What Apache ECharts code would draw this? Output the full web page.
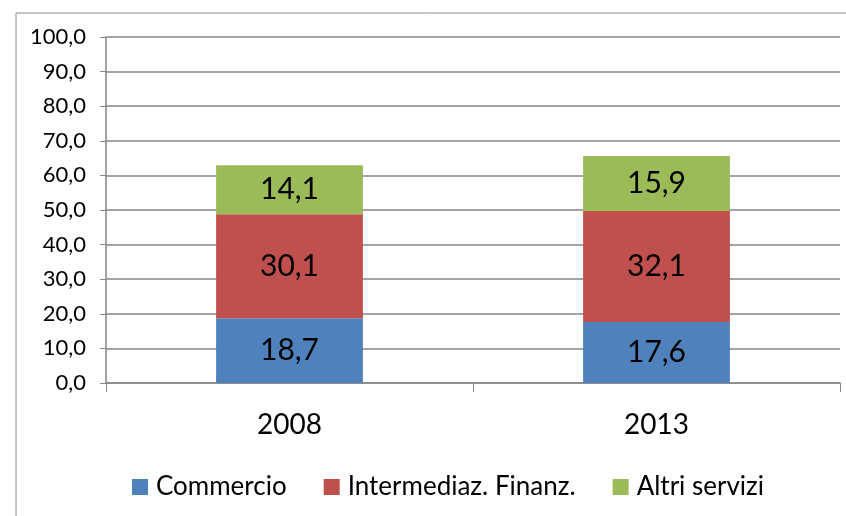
<!DOCTYPE html>
<html>
<head>
<meta charset="utf-8">
<script src="https://cdn.jsdelivr.net/npm/echarts@6/dist/echarts.min.js"></script>
<style>
  html, body { margin: 0; padding: 0; background: #fff; }
  #main { width: 846px; height: 516px; }
</style>
</head>
<body>
<div id="main"></div>
<script>
// dati
var anni = ['2008', '2013'];
var commercio = [18.7, 17.6];
var intermediaz = [30.1, 32.1];
var altriServizi = [14.1, 15.9];
var nomiSerie = ['Commercio', 'Intermediaz. Finanz.', 'Altri servizi'];

var font = 'Lato';
function virgola(v) { return v.toFixed(1).replace('.', ','); }

var myChart = echarts.init(document.getElementById('main'));

var etichetta = {
    show: true,
    position: 'inside',
    color: '#000',
    fontFamily: font,
    fontSize: 30,
    formatter: function (p) { return virgola(p.value); }
};

var option = {
    animation: false,
    color: ['#4F81BD', '#C0504D', '#9BBB59'],
    graphic: [{
        type: 'rect',
        shape: { x: 16, y: 13, width: 840, height: 520 },
        style: { fill: 'none', stroke: '#8c8c8c', lineWidth: 1 },
        silent: true
    }],
    grid: { left: 106, right: 6, top: 37, bottom: 133 },
    legend: {
        top: 469,
        left: 127,
        itemWidth: 16,
        itemHeight: 16,
        itemGap: 37,
        icon: 'rect',
        textStyle: { fontFamily: font, fontSize: 26, color: '#000', padding: [0, 0, 0, 3] },
        data: nomiSerie
    },
    xAxis: {
        type: 'category',
        data: anni,
        axisLine: { lineStyle: { color: '#868686', width: 1.5 } },
        axisTick: { show: true, alignWithLabel: false, length: 9, lineStyle: { color: '#868686' } },
        axisLabel: { fontFamily: font, fontSize: 28, color: '#000', margin: 28 }
    },
    yAxis: {
        type: 'value',
        min: 0,
        max: 100,
        interval: 10,
        axisLine: { show: true, lineStyle: { color: '#868686', width: 1.5 } },
        axisTick: { show: true, length: 6, lineStyle: { color: '#868686' } },
        splitLine: { lineStyle: { color: '#868686', width: 1.5 } },
        axisLabel: { fontFamily: font, fontSize: 22, color: '#000', margin: 20, formatter: virgola }
    },
    series: [
        { name: nomiSerie[0], type: 'bar', stack: 'tot', data: commercio, barWidth: '40%', label: etichetta },
        { name: nomiSerie[1], type: 'bar', stack: 'tot', data: intermediaz, barWidth: '40%', label: etichetta },
        { name: nomiSerie[2], type: 'bar', stack: 'tot', data: altriServizi, barWidth: '40%', label: etichetta }
    ]
};
myChart.setOption(option);
</script>
</body>
</html>
